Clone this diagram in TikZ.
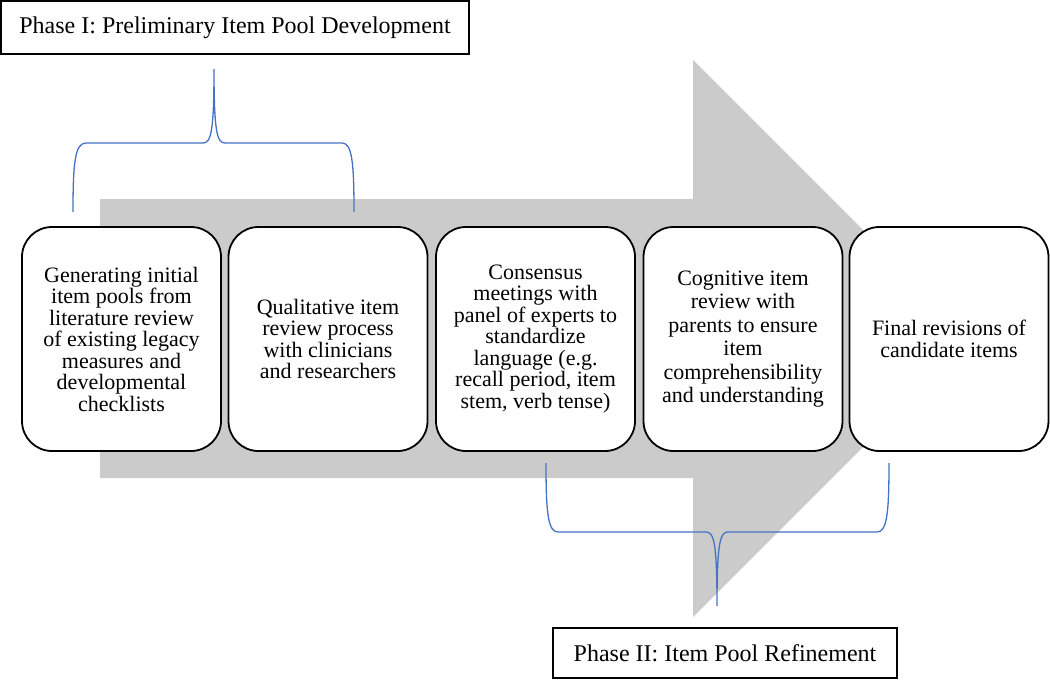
\documentclass[tikz,border=0pt]{standalone}
\usepackage{fontspec}
\setmainfont{Liberation Serif}
\definecolor{arrowgray}{HTML}{CBCBCB}
\definecolor{braceblue}{HTML}{4472C4}
\tikzset{
  stepbox/.style={draw=black, line width=1.8pt, fill=white, rounded corners=30pt,
    minimum width=199pt, minimum height=224pt, align=center, inner sep=0pt,
    font=\fontsize{22}{21.5}\selectfont},
  phasebox/.style={draw=black, line width=1.4pt, fill=white, inner sep=0pt,
    font=\fontsize{24}{26}\selectfont},
  brace/.style={draw=braceblue, line width=1.3pt},
}
\begin{document}
\begin{tikzpicture}[x=1pt,y=-1pt]
\useasboundingbox (0,0) rectangle (1050,680);
% big gray arrow
\fill[arrowgray] (100,199) -- (693,199) -- (693,60) -- (971.5,338.5) -- (693,617) -- (693,478) -- (100,478) -- cycle;
% step boxes
\node[stepbox] (s1) at (121.5,339) {Generating initial\\item pools from\\literature review\\of existing legacy\\measures and\\developmental\\checklists};
\node[stepbox] (s2) at (328,339) {Qualitative item\\review process\\with clinicians\\and researchers};
\node[stepbox] (s3) at (535.5,339) {Consensus\\meetings with\\panel of experts to\\standardize\\language (e.g.\\recall period, item\\stem, verb tense)};
\node[stepbox, font=\fontsize{22}{23.5}\selectfont] (s4) at (743,339) {Cognitive item\\review with\\parents to ensure\\item\\comprehensibility\\and understanding};
\node[stepbox] (s5) at (949,339) {Final revisions of\\candidate items};
% phase labels
\node[phasebox, minimum width=468pt, minimum height=53pt] (p1) at (235,27.5) {Phase I: Preliminary Item Pool Development};
\node[phasebox, minimum width=344pt, minimum height=50pt] (p2) at (725,653) {Phase II: Item Pool Refinement};
% braces
\coordinate (b1l) at (73,212);
\coordinate (b1t) at (214,69);
\coordinate (b1r) at (354,212);
\draw[brace] (b1l) .. controls (73,162) and (75,143) .. (86,143) -- (203,143)
  .. controls (211,143) and (214,132) .. (b1t)
  .. controls (214,132) and (217,143) .. (225,143) -- (342,143)
  .. controls (352,143) and (354,162) .. (b1r);
\coordinate (b2l) at (546,463);
\coordinate (b2t) at (717,606);
\coordinate (b2r) at (889,463);
\draw[brace] (b2l) .. controls (546,513) and (548,532) .. (558,532) -- (706,532)
  .. controls (714,532) and (717,543) .. (b2t)
  .. controls (717,543) and (720,532) .. (728,532) -- (877,532)
  .. controls (887,532) and (889,513) .. (b2r);
\end{tikzpicture}
\end{document}
